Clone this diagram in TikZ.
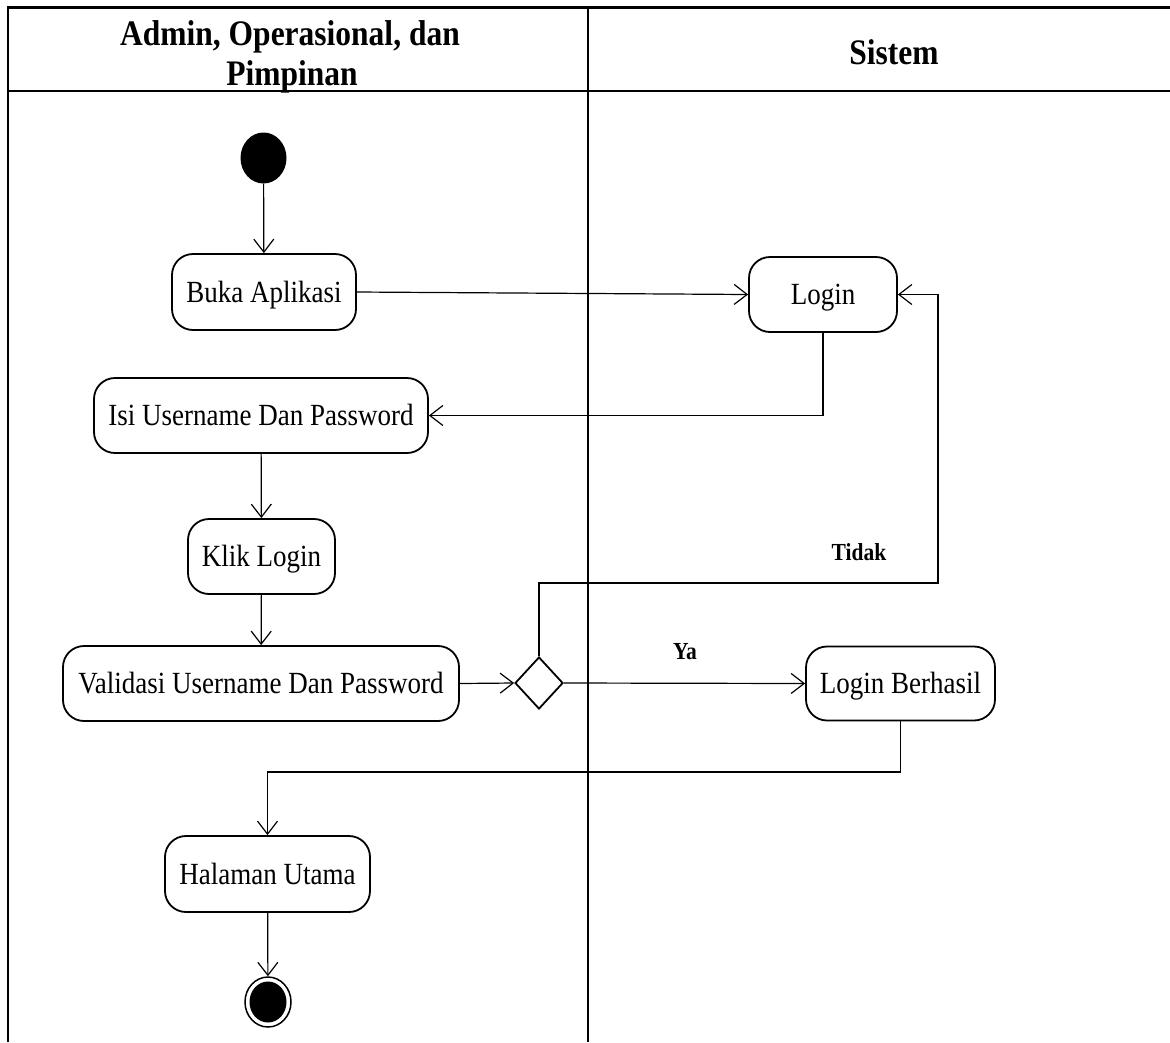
\documentclass[tikz,border=0pt]{standalone}
\usepackage{fontspec}
\setmainfont{Liberation Serif}
\usetikzlibrary{arrows.meta,shapes.geometric}
% labels are set slightly taller than wide
\newcommand{\tallish}[1]{\scalebox{1}[1.14]{#1}}
\begin{document}
\begin{tikzpicture}[x=1pt,y=-1pt,
  act/.style={draw,line width=1.8pt,rounded corners=21pt,inner sep=0pt,
    text height=20.5pt,text depth=0pt,font=\fontsize{27}{30}\selectfont},
  flow/.style={line width=1.2pt,-{Straight Barb[length=13pt,width=20pt,line width=1.2pt]}},
  lane/.style={line width=2.2pt},
  guard/.style={inner sep=0pt,font=\fontsize{21.5}{24}\selectfont\bfseries},
  head/.style={font=\fontsize{31.5}{36}\selectfont\bfseries,anchor=base,inner sep=0pt},
  dot/.style={ellipse,fill=black,inner sep=0pt}]
\useasboundingbox (0,0) rectangle (1170,1042);

% swimlane frame
\draw[lane] (8,1042) -- (8,7.5) -- (1170,7.5);
\draw[lane] (8,91) -- (1170,91);
\draw[lane] (588,7.5) -- (588,1042);

% lane headings
\node[head] (hdrA) at (290,45) {\tallish{Admin, Operasional, dan}};
\node[head] (hdrB) at (292,85) {\tallish{Pimpinan}};
\node[head] (hdrS) at (894,64) {\tallish{Sistem}};

% activities
\node[dot,minimum width=46pt,minimum height=51pt] (start) at (263.5,158) {};
\node[act,minimum width=184pt,minimum height=76pt] (buka) at (264,292) {\tallish{Buka Aplikasi}};
\node[act,minimum width=148pt,minimum height=75pt] (login) at (823,294.5) {\tallish{Login}};
\node[act,minimum width=334pt,minimum height=75pt] (isi) at (261,415.5) {\tallish{Isi Username Dan Password}};
\node[act,minimum width=147pt,minimum height=75pt] (klik) at (261.5,556.5) {\tallish{Klik Login}};
\node[act,minimum width=396pt,minimum height=75pt] (valid) at (261,683.5) {\tallish{Validasi Username Dan Password}};
\node[diamond,draw,line width=1.8pt,inner sep=0pt,minimum width=48pt,minimum height=52pt] (dec) at (539,683) {};
\node[act,minimum width=189pt,minimum height=74pt] (ok) at (900.5,683.5) {\tallish{Login Berhasil}};
\node[act,minimum width=205pt,minimum height=76pt] (home) at (267.5,874) {\tallish{Halaman Utama}};
\node[ellipse,draw,line width=1.5pt,inner sep=0pt,minimum width=46pt,minimum height=50pt] (final) at (268,1002) {};
\node[dot,minimum width=37pt,minimum height=41pt] (finalcore) at (268,1002) {};

% guards
\node[guard] (tidak) at (859,552) {\tallish{Tidak}};
\node[guard] (ya) at (685,652) {\tallish{Ya}};

% bend points
\coordinate (retry) at (938,583);
\coordinate (down) at (267.5,772);

% flows
\draw[flow] (start) -- (buka);
\draw[flow] (buka.east) -- (login.west);
\draw[flow] (login.south) |- (isi.east);
\draw[flow] (isi) -- (klik);
\draw[flow] (klik) -- (valid);
\draw[flow] (valid.east) -- (dec.west);
\draw[flow] (dec.north) |- (retry) |- (login.east);
\draw[flow] (dec.east) -- (ok.west);
\draw[flow] (ok.south) |- (down) -- (home.north);
\draw[flow] (home) -- (final);
\end{tikzpicture}
\end{document}
